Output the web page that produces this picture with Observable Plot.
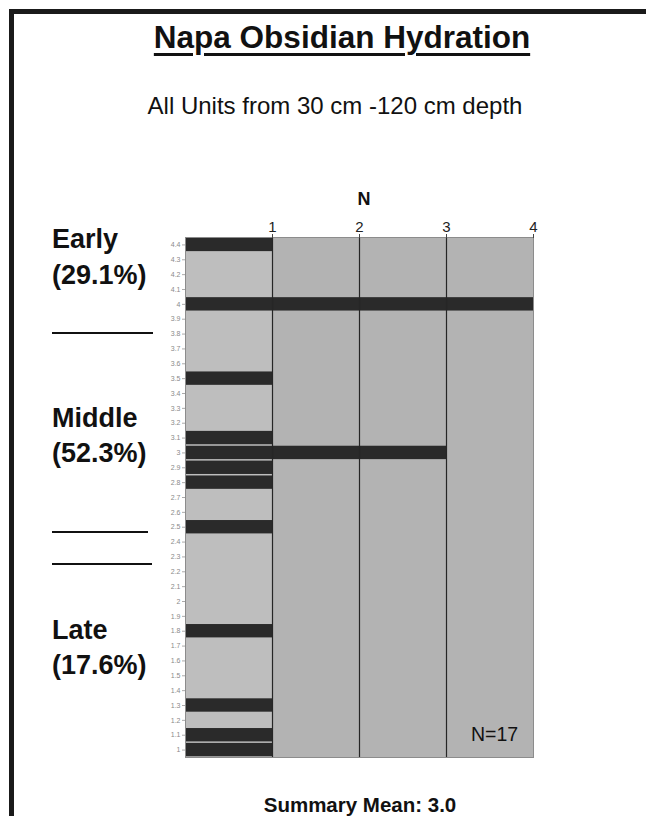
<!DOCTYPE html>
<html><head><meta charset="utf-8">
<script src="https://cdn.jsdelivr.net/npm/d3@7"></script>
<script src="https://cdn.jsdelivr.net/npm/@observablehq/plot@0.6"></script>
<style>
body{margin:0;background:#fff;}
#page{position:relative;width:646px;height:816px;overflow:hidden;font-family:"Liberation Sans",Arial,sans-serif;background:#fff;}
#page svg{position:absolute;left:0;top:0;}
.t{position:absolute;white-space:nowrap;line-height:1;color:#111;}
.b{font-weight:bold;}
.c{transform:translateX(-50%);}
.hr{position:absolute;height:0;border-top:2px solid #111;}
.border{position:absolute;background:#1a1a1a;}
</style></head><body><div id="page"></div>
<script>
// Hydration rim values (microns), top to bottom
const hydrationLabels = ["4.4","4.3","4.2","4.1","4","3.9","3.8","3.7","3.6","3.5","3.4","3.3","3.2","3.1","3","2.9","2.8","2.7","2.6","2.5","2.4","2.3","2.2","2.1","2","1.9","1.8","1.7","1.6","1.5","1.4","1.3","1.2","1.1","1"];
// Count of specimens (N) per rim value
const hydrationCounts = [1,0,0,0,4,0,0,0,0,1,0,0,0,1,3,1,1,0,0,1,0,0,0,0,0,0,1,0,0,0,0,1,0,1,1];
const xTicks = [1,2,3,4];
const periodNames = ["Early","Middle","Late"];
const periodShares = ["(29.1%)","(52.3%)","(17.6%)"];
const titleText = "Napa Obsidian Hydration";
const subtitleText = "All Units from 30 cm -120 cm depth";
const sampleText = "N=17";
const meanText = "Summary Mean: 3.0";

const data = hydrationLabels.map((label,i)=>({label, n: hydrationCounts[i]})).filter(d=>d.n>0);
const firstColumn = [{from: 0, to: xTicks[0]}];

const chart = Plot.plot({
  width: 646, height: 816,
  marginTop: 237, marginBottom: 59, marginLeft: 185, marginRight: 113,
  style: {fontFamily: "Liberation Sans, Arial, sans-serif", background: "transparent", color: "#111"},
  x: {domain: [0, 4], label: null},
  y: {domain: hydrationLabels, paddingInner: 0.1, paddingOuter: 0.05, round: false, label: null},
  marks: [
    Plot.frame({fill: "#b3b3b3"}),
    Plot.rectX(firstColumn, {x1: "from", x2: "to", fill: "#bebebe"}),
    Plot.barX(data, {x: "n", y: "label", fill: "#2a2a2a"}),
    Plot.ruleX(xTicks.slice(0, 3), {stroke: "#262626", strokeWidth: 1.2}),
    Plot.frame({stroke: "#8c8c8c"}),
    Plot.axisX(xTicks, {anchor: "top", tickSize: 4, tickPadding: 2, fontSize: 15, label: null, stroke: "#444", fill: "#222"}),
    Plot.axisY({anchor: "left", tickSize: 3, tickPadding: 2, fontSize: 7, fill: "#8a8a8a", stroke: "#aaa", label: null})
  ]
});

const page = document.getElementById("page");
page.appendChild(chart);

function addText(txt, opts){
  const d = document.createElement("div");
  d.className = "t" + (opts.bold ? " b" : "") + (opts.center ? " c" : "");
  d.textContent = txt;
  d.style.fontSize = opts.fs + "px";
  d.style.top = (opts.base - 0.8465*opts.fs) + "px";
  d.style.left = opts.x + "px";
  if (opts.css) Object.assign(d.style, opts.css);
  page.appendChild(d);
  return d;
}
function addLine(x1, x2, y){
  const d = document.createElement("div");
  d.className = "hr";
  d.style.left = x1 + "px"; d.style.width = (x2 - x1) + "px"; d.style.top = (y - 1) + "px";
  page.appendChild(d);
}

addText(titleText, {x: 342, base: 49, fs: 31.5, bold: true, center: true,
  css: {textDecoration: "underline", textDecorationThickness: "3px", textUnderlineOffset: "5px"}});
addText(subtitleText, {x: 335, base: 114, fs: 24, center: true});
addText("N", {x: 364, base: 205, fs: 18, bold: true, center: true});

const baseLines = [[249, 285], [428, 463], [640, 675]];
periodNames.forEach((name, i) => {
  addText(name, {x: 52, base: baseLines[i][0], fs: 27, bold: true});
  addText(periodShares[i], {x: 52, base: baseLines[i][1], fs: 27, bold: true});
});
addLine(52, 153, 333);
addLine(52, 148, 532);
addLine(52, 152, 564);

addText(sampleText, {x: 471, base: 742, fs: 19.5});
addText(meanText, {x: 360, base: 812, fs: 20.5, bold: true, center: true});

// page border (top and left)
const bt = document.createElement("div"); bt.className = "border";
Object.assign(bt.style, {left: "9px", top: "9px", width: "637px", height: "5px"}); page.appendChild(bt);
const bl = document.createElement("div"); bl.className = "border";
Object.assign(bl.style, {left: "9px", top: "9px", width: "5px", height: "807px"}); page.appendChild(bl);
</script>
</body></html>
